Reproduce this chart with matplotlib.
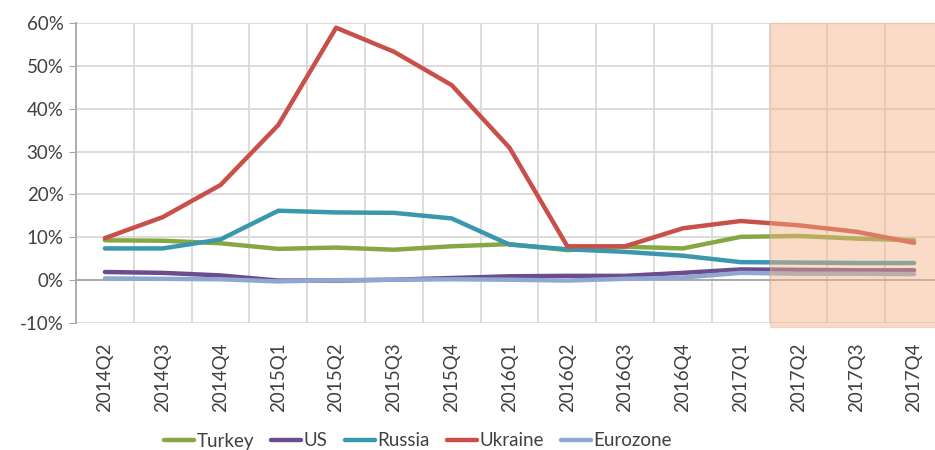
import matplotlib
matplotlib.use("Agg")
import matplotlib.pyplot as plt
from matplotlib.ticker import FuncFormatter, MultipleLocator

quarters = ["2014Q2", "2014Q3", "2014Q4", "2015Q1", "2015Q2", "2015Q3", "2015Q4",
            "2016Q1", "2016Q2", "2016Q3", "2016Q4", "2017Q1", "2017Q2", "2017Q3", "2017Q4"]

turkey = [9.3, 9.2, 8.6, 7.3, 7.6, 7.1, 7.9, 8.4, 7.0, 7.8, 7.4, 10.1, 10.3, 9.7, 9.3]
us = [1.9, 1.7, 1.1, -0.1, -0.1, 0.1, 0.5, 0.9, 1.0, 1.0, 1.7, 2.5, 2.4, 2.3, 2.3]
russia = [7.4, 7.4, 9.5, 16.2, 15.8, 15.7, 14.4, 8.3, 7.2, 6.6, 5.7, 4.2, 4.1, 4.0, 4.0]
ukraine = [9.8, 14.7, 22.2, 36.2, 58.9, 53.3, 45.5, 30.9, 7.9, 7.9, 12.1, 13.8, 12.8, 11.3, 8.7]
eurozone = [0.4, 0.3, 0.2, -0.3, 0.0, 0.1, 0.2, 0.1, -0.1, 0.3, 0.6, 1.7, 1.5, 1.5, 1.4]

forecast_start = "2017Q2"

series = [
    ("Turkey", turkey, "#86A843"),
    ("US", us, "#6A4C8F"),
    ("Russia", russia, "#3A97AE"),
    ("Ukraine", ukraine, "#C9504A"),
    ("Eurozone", eurozone, "#8EA8D2"),
]

plt.rcParams["font.family"] = ["Lato", "DejaVu Sans"]
text_color = "#404040"

fig = plt.figure(figsize=(9.35, 4.5), dpi=100)
ax = fig.add_axes([76 / 935, 127 / 450, 867 / 935, 300 / 450])

x = list(range(len(quarters)))
for name, vals, col in series:
    ax.plot(x, vals, color=col, lw=3.2, label=name, solid_capstyle="round",
            solid_joinstyle="round", zorder=3)

# shaded forecast period
fs = quarters.index(forecast_start) - 0.5
ax.axvspan(fs, len(quarters) - 0.5, ymin=-0.012, facecolor="#F4B183", alpha=0.45,
           edgecolor="#E8B89A", lw=1, zorder=4, clip_on=False)

ax.set_xlim(-0.5, len(quarters) - 0.5)
ax.set_ylim(-10, 60)
ax.yaxis.set_major_locator(MultipleLocator(10))
ax.yaxis.set_major_formatter(FuncFormatter(lambda v, p: f"{v:.0f}%"))

# category boundaries as vertical gridlines
for b in range(1, len(quarters)):
    ax.axvline(b - 0.5, color="#D9D9D9", lw=1.3, zorder=1)
ax.grid(axis="y", color="#D9D9D9", lw=1.3, zorder=1)
ax.axhline(0, color="#A6A6A6", lw=1.3, zorder=2)

ax.set_xticks(x)
ax.set_xticklabels(quarters, rotation=90, fontsize=13.5, color=text_color)
ax.tick_params(axis="x", length=0, pad=14)
ax.tick_params(axis="y", labelsize=13.5, labelcolor=text_color, length=5,
               color="#A6A6A6", pad=4)

for s in ["top", "right", "bottom"]:
    ax.spines[s].set_visible(False)
ax.spines["left"].set_color("#A6A6A6")
ax.spines["left"].set_linewidth(1.3)

fig.legend(loc="center", bbox_to_anchor=(418 / 935, 1 - 441 / 450), ncol=5,
           frameon=False, fontsize=13.5, handlelength=1.6, handletextpad=0.15,
           columnspacing=0.9, labelcolor=text_color)

fig.savefig("out.png", dpi=100)
